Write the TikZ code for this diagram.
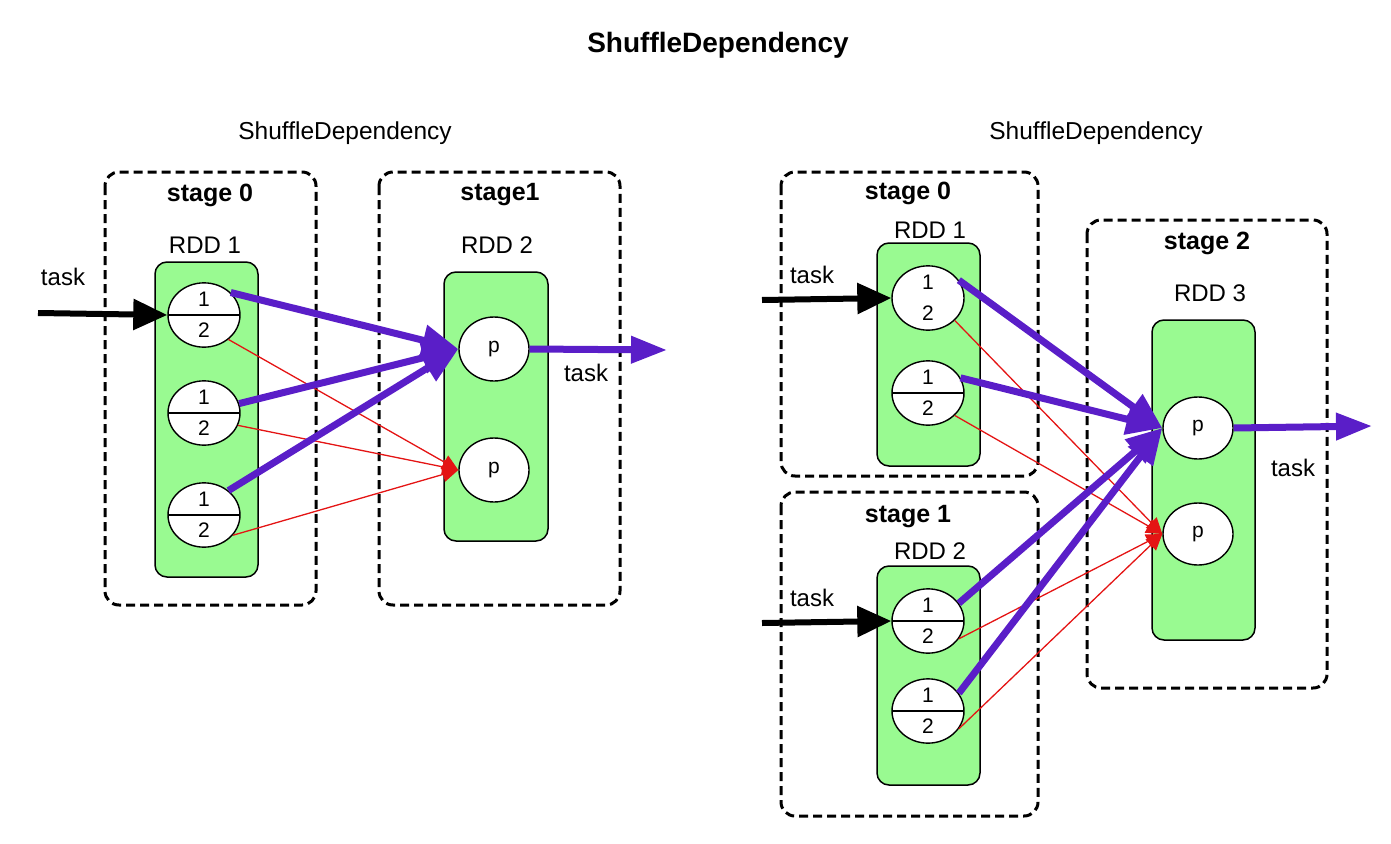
\documentclass[tikz,border=0pt]{standalone}
\usepackage{fontspec}
\setmainfont{Liberation Sans}
\definecolor{rddgreen}{RGB}{153,250,145}
\definecolor{shufpurple}{RGB}{90,30,200}
\definecolor{shufred}{RGB}{228,20,20}
\usepackage{tikz}
\usetikzlibrary{shapes, arrows.meta, positioning, calc}

\begin{document}
\begin{tikzpicture}[x=1pt, y=-1pt,
  stagebox/.style={line width=3pt, dash pattern=on 9pt off 5pt, rounded corners=14pt},
  rddbox/.style={draw, fill=rddgreen, line width=1.5pt, rounded corners=12pt},
  part/.style={ellipse, draw, fill=white, line width=1.4pt, minimum width=72pt, minimum height=64pt, inner sep=0pt, align=center, font=\fontsize{21}{31}\selectfont,
    path picture={\draw[line width=1.4pt] (path picture bounding box.west) -- (path picture bounding box.east);}},
  partnl/.style={ellipse, draw, fill=white, line width=1.4pt, minimum width=72pt, minimum height=62pt, inner sep=0pt, align=center, font=\fontsize{21}{31}\selectfont},
  pnode/.style={ellipse, draw, fill=white, line width=1.4pt, minimum width=70pt, minimum height=64pt, font=\fontsize{21}{24}\selectfont},
  stagelbl/.style={font=\fontsize{25}{30}\bfseries},
  rddlbl/.style={font=\fontsize{24}{29}\selectfont},
  tasklbl/.style={font=\fontsize{24}{29}\selectfont},
  shuf/.style={draw=shufpurple, line width=7pt, -{Triangle[length=36pt,width=30pt]}},
  narrow/.style={draw=shufred, line width=1.3pt, -{Triangle[length=16pt,width=15pt]}},
  taskarrow/.style={line width=6pt, -{Triangle[length=34pt,width=30pt]}},
  outarrow/.style={draw=shufpurple, line width=7pt, -{Triangle[length=36pt,width=26pt]}}]
  \useasboundingbox (0,0) rectangle (1391,843);

  % titles
  \node[font=\fontsize{28}{34}\bfseries] (title) at (718,45) {ShuffleDependency};
  \node[font=\fontsize{24.5}{30}\selectfont] (subl) at (345,133) {ShuffleDependency};
  \node[font=\fontsize{24.5}{30}\selectfont] (subr) at (1096,133) {ShuffleDependency};

  % left: stage 0 -> stage1
  \draw[stagebox] (105,172) rectangle (316,605);
  \draw[stagebox] (379,172) rectangle (620,605);
  \node[stagelbl] (ls0) at (210,195) {stage 0};
  \node[stagelbl] (ls1) at (500,195) {stage1};
  \node[rddlbl] (lr1) at (205,245) {RDD 1};
  \node[rddlbl] (lr2) at (497,245) {RDD 2};
  \draw[rddbox] (155,262) rectangle (258,577);
  \draw[rddbox] (444,272) rectangle (548,541);
  \node[part] (la1) at (204,315) {1\\2};
  \node[part] (la2) at (204,413) {1\\2};
  \node[part] (la3) at (204,515) {1\\2};
  \node[pnode] (lb1) at (494,349) {p};
  \node[pnode] (lb2) at (494,470) {p};
  \node[tasklbl] (ltask) at (63,277) {task};
  \node[tasklbl] (lout) at (586,373) {task};
  \coordinate (lin) at (38,313);
  \coordinate (lend) at (667,350);
  \draw[taskarrow] (lin) -- (la1.west);
  \draw[narrow] (la1.-45) -- (lb2.west);
  \draw[narrow] (la2.-20) -- (lb2.west);
  \draw[narrow] (la3.-35) -- (lb2.west);
  \draw[shuf] (la1.40) -- (lb1.west);
  \draw[shuf] (la2.15) -- (lb1.west);
  \draw[shuf] (la3.45) -- (lb1.west);
  \draw[outarrow] (lb1.east) -- (lend);

  % right: stage 0, stage 1 -> stage 2
  \draw[stagebox] (781,172) rectangle (1038,476);
  \draw[stagebox] (781,492) rectangle (1038,816);
  \draw[stagebox] (1087,220) rectangle (1327,688);
  \node[stagelbl] (rs0) at (908,193) {stage 0};
  \node[stagelbl] (rs1) at (908,517) {stage 1};
  \node[stagelbl] (rs2) at (1207,243) {stage 2};
  \node[rddlbl] (rr1) at (930,230) {RDD 1};
  \node[rddlbl] (rr2) at (930,551) {RDD 2};
  \node[rddlbl] (rr3) at (1210,293) {RDD 3};
  \draw[rddbox] (877,243) rectangle (980,466);
  \draw[rddbox] (877,566) rectangle (980,785);
  \draw[rddbox] (1152,320) rectangle (1255,640);
  \node[partnl] (ra1) at (928,298) {1\\2};
  \node[part, minimum height=62pt] (ra2) at (928,393) {1\\2};
  \node[part, minimum height=62pt] (rb1) at (928,621) {1\\2};
  \node[part, minimum height=62pt] (rb2) at (928,711) {1\\2};
  \node[pnode, minimum height=62pt] (rc1) at (1198,428) {p};
  \node[pnode, minimum height=62pt] (rc2) at (1198,534) {p};
  \node[tasklbl] (rtask0) at (812,275) {task};
  \node[tasklbl] (rtask1) at (812,598) {task};
  \node[tasklbl] (rout) at (1293,468) {task};
  \coordinate (rin0) at (762,300);
  \coordinate (rin1) at (762,623);
  \coordinate (rend) at (1372,426);
  \draw[taskarrow] (rin0) -- (ra1.west);
  \draw[taskarrow] (rin1) -- (rb1.west);
  \draw[narrow] (ra1.-40) -- (rc2.west);
  \draw[narrow] (ra2.-40) -- (rc2.west);
  \draw[narrow] (rb1.-30) -- (rc2.west);
  \draw[narrow] (rb2.-30) -- (rc2.west);
  \draw[shuf] (ra1.30) -- (rc1.west);
  \draw[shuf] (ra2.25) -- (rc1.west);
  \draw[shuf] (rb1.30) -- (rc1.west);
  \draw[shuf] (rb2.30) -- (rc1.west);
  \draw[outarrow] (rc1.east) -- (rend);
\end{tikzpicture}
\end{document}
